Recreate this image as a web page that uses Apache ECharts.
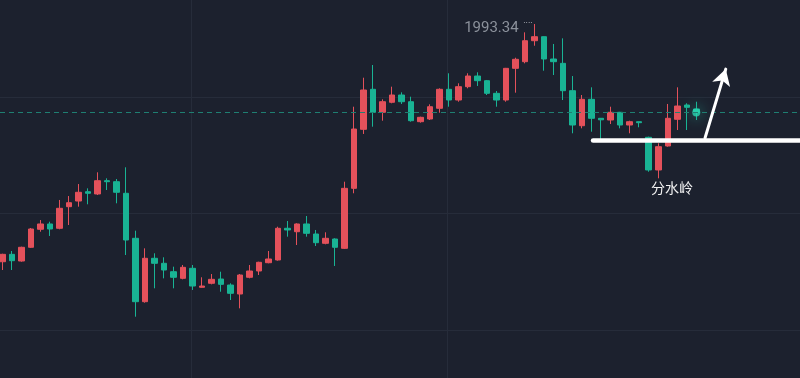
<!DOCTYPE html>
<html>
<head>
<meta charset="utf-8">
<script src="https://cdn.jsdelivr.net/npm/echarts@6/dist/echarts.min.js"></script>
<style>
  html, body { margin: 0; padding: 0; background: #1c212e; }
  #chart { width: 800px; height: 378px; }
</style>
</head>
<body>
<div id="chart"></div>
<script>
// candle values (open / close / low / high)
const opens = [
  1952.53, 1953.80, 1952.65, 1955.01, 1958.10, 1959.01, 1958.27, 1961.98, 1962.95, 1964.55,
  1964.16, 1966.44, 1966.27, 1964.28, 1956.55, 1945.67, 1953.12, 1952.26, 1950.82, 1949.68,
  1951.40, 1948.14, 1948.83, 1949.56, 1948.53, 1946.99, 1949.86, 1950.94, 1952.36, 1952.83,
  1958.27, 1957.68, 1959.01, 1957.29, 1955.69, 1956.43, 1954.83, 1965.13, 1975.26, 1982.13,
  1978.18, 1979.90, 1981.15, 1980.00, 1976.57, 1977.03, 1978.87, 1982.13, 1980.29, 1982.58,
  1984.41, 1983.61, 1981.44, 1980.29, 1985.73, 1986.87, 1990.47, 1991.16, 1987.33, 1986.59,
  1981.89, 1975.88, 1980.41, 1977.15, 1976.86, 1978.18, 1976.00, 1976.57, 1973.89, 1968.28,
  1972.40, 1976.98, 1979.43, 1978.75
]
const closes = [
  1953.80, 1952.71, 1955.01, 1958.15, 1959.01, 1958.15, 1961.70, 1962.66, 1964.45, 1964.28,
  1966.44, 1966.27, 1964.45, 1956.26, 1945.67, 1953.12, 1952.26, 1951.11, 1949.86, 1951.57,
  1948.36, 1948.36, 1949.51, 1948.65, 1947.11, 1950.25, 1950.94, 1952.43, 1953.00, 1958.27,
  1957.98, 1959.01, 1957.41, 1955.80, 1956.55, 1955.01, 1965.13, 1975.31, 1982.01, 1978.18,
  1980.00, 1981.15, 1980.00, 1976.74, 1977.32, 1979.14, 1982.13, 1980.29, 1982.58, 1984.41,
  1983.61, 1981.44, 1980.29, 1985.73, 1987.28, 1990.47, 1991.16, 1987.33, 1986.87, 1981.89,
  1976.00, 1980.41, 1977.15, 1976.89, 1978.18, 1976.00, 1976.57, 1976.40, 1968.28, 1972.28,
  1977.15, 1979.26, 1979.04, 1978.15
]
const lows = [
  1951.11, 1951.11, 1952.53, 1954.89, 1957.68, 1956.95, 1958.10, 1958.83, 1961.98, 1962.39,
  1963.98, 1964.84, 1962.56, 1953.68, 1943.09, 1945.50, 1947.97, 1949.68, 1947.97, 1949.51,
  1947.68, 1948.07, 1948.65, 1947.38, 1945.96, 1944.53, 1949.68, 1950.25, 1952.26, 1952.71,
  1956.83, 1955.40, 1956.83, 1955.23, 1955.52, 1951.80, 1954.71, 1964.28, 1974.46, 1975.71,
  1976.74, 1979.73, 1979.61, 1976.57, 1976.40, 1976.86, 1978.11, 1979.14, 1980.00, 1982.30,
  1982.70, 1981.15, 1979.14, 1980.00, 1981.55, 1986.59, 1989.61, 1985.32, 1984.58, 1980.29,
  1974.58, 1975.43, 1974.85, 1973.43, 1976.17, 1975.43, 1974.58, 1975.61, 1967.98, 1966.85,
  1972.28, 1975.14, 1975.14, 1976.86
]
const highs = [
  1953.90, 1954.37, 1955.11, 1958.32, 1959.69, 1959.40, 1963.13, 1963.81, 1965.87, 1965.13,
  1967.88, 1966.85, 1966.73, 1968.74, 1957.86, 1954.83, 1953.98, 1953.29, 1951.68, 1951.97,
  1951.97, 1949.86, 1950.42, 1950.82, 1948.83, 1950.42, 1951.97, 1952.53, 1954.37, 1958.54,
  1959.52, 1959.13, 1960.38, 1957.98, 1957.58, 1956.55, 1966.27, 1979.14, 1984.12, 1986.30,
  1980.41, 1982.58, 1981.61, 1980.86, 1977.43, 1979.55, 1982.30, 1984.88, 1983.16, 1984.88,
  1985.05, 1983.73, 1981.84, 1985.80, 1987.55, 1991.91, 1993.34, 1991.20, 1989.91, 1990.88,
  1984.41, 1981.15, 1982.47, 1977.20, 1979.14, 1978.25, 1976.74, 1976.60, 1974.00, 1972.86,
  1979.61, 1982.47, 1979.73, 1980.00
]

// visible window of the time axis, in candle slots (room left on the right)
const slotMin = -0.24
const slotMax = 83.91
const priceMin = 1932.57
const priceMax = 1997.46

// hand-drawn annotations, in [slot, price]
const watershedLevel = 1973.43
const watershedFrom = 62.14
const watershedTo = 83.9
const arrowFrom = [73.92, 1973.77]
const arrowTo = [76.1, 1985.6]
const watershedText = '分水岭'
const watershedTextAt = [70.45, 1965.19]

const UP = '#e4515b'
const DOWN = '#19b394'
const GRID = '#262c3a'
const NONE = 'rgba(0,0,0,0)'

const candles = opens.map((o, i) => [i, o, closes[i], lows[i], highs[i]])
const lastIndex = closes.length - 1
const lastClose = closes[lastIndex]

const chart = echarts.init(document.getElementById('chart'))

const hiddenAxis = {
  axisLine: { show: false },
  axisTick: { show: false },
  axisLabel: { show: false }
}

const option = {
  backgroundColor: '#1c212e',
  animation: false,
  grid: [
    { left: 0, right: 0, top: 0, bottom: 0 },
    // faint vertical grid lines
    { left: 191, right: 0, top: 0, bottom: 0 },
    // faint horizontal grid lines
    { left: 0, right: 0, top: 97, bottom: 48 }
  ],
  xAxis: [
    { type: 'value', min: slotMin, max: slotMax, show: false, splitLine: { show: false } },
    {
      type: 'value', gridIndex: 1, min: 0, max: 609, interval: 256, ...hiddenAxis,
      splitLine: { show: true, lineStyle: { color: [GRID, GRID, NONE, NONE], width: 1 } }
    },
    { type: 'value', gridIndex: 2, min: 0, max: 1, show: false, splitLine: { show: false } }
  ],
  yAxis: [
    { type: 'value', min: priceMin, max: priceMax, show: false, splitLine: { show: false } },
    { type: 'value', gridIndex: 1, min: 0, max: 1, show: false, splitLine: { show: false } },
    {
      type: 'value', gridIndex: 2, min: 0, max: 233, interval: 116.5, ...hiddenAxis,
      splitLine: { show: true, lineStyle: { color: GRID, width: 1 } }
    }
  ],
  series: [
    {
      type: 'candlestick',
      data: candles,
      dimensions: ['slot', 'open', 'close', 'lowest', 'highest'],
      encode: { x: 'slot', y: ['open', 'close', 'lowest', 'highest'] },
      barWidth: 6,
      clip: false,
      itemStyle: {
        color: UP,
        color0: DOWN,
        borderColor: UP,
        borderColor0: DOWN,
        borderWidth: 1
      },
      markLine: {
        silent: true,
        animation: false,
        symbol: ['none', 'none'],
        label: { show: false },
        emphasis: { disabled: true },
        data: [
          {
            yAxis: lastClose,
            lineStyle: { color: '#1f7f72', width: 1, type: [5, 4] }
          },
          [
            {
              coord: [watershedFrom, watershedLevel],
              lineStyle: { color: '#ffffff', width: 4.5, type: 'solid', cap: 'round' }
            },
            { coord: [watershedTo, watershedLevel] }
          ],
          [
            {
              coord: arrowFrom,
              lineStyle: { color: '#ffffff', width: 3, type: 'solid', cap: 'round' }
            },
            { coord: arrowTo, symbol: 'arrow', symbolSize: [14, 16] }
          ]
        ]
      },
      markPoint: {
        silent: true,
        animation: false,
        symbol: 'circle',
        symbolSize: 0,
        data: [
          {
            type: 'max',
            valueDim: 'highest',
            label: {
              show: true,
              position: 'left',
              distance: 16,
              offset: [0, 4],
              color: '#8b919b',
              fontSize: 15,
              fontFamily: 'Roboto, sans-serif',
              formatter: p => p.value.toFixed(2)
            }
          },
          {
            type: 'max',
            valueDim: 'highest',
            label: {
              show: true,
              position: 'left',
              distance: 2,
              offset: [0, 0],
              color: '#c4c8cf',
              fontSize: 9,
              fontFamily: 'Roboto, sans-serif',
              formatter: '····'
            }
          },
          {
            coord: watershedTextAt,
            label: {
              show: true,
              position: 'inside',
              color: '#f2f2f2',
              fontSize: 14,
              fontFamily: '"Noto Sans CJK SC", sans-serif',
              formatter: watershedText
            }
          }
        ]
      }
    },
    {
      // glowing marker on the latest price
      type: 'scatter',
      data: [[lastIndex, lastClose]],
      symbolSize: 8,
      silent: true,
      itemStyle: {
        color: '#2ad6b2',
        shadowBlur: 14,
        shadowColor: '#2ad6b2'
      }
    }
  ]
}

chart.setOption(option)
</script>
</body>
</html>
